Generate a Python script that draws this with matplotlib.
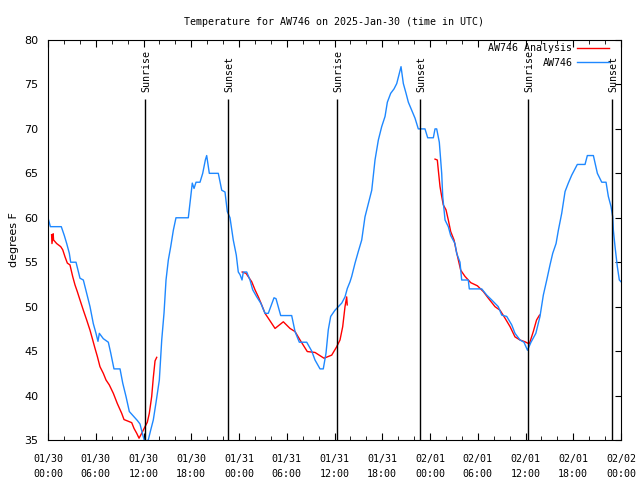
import matplotlib
matplotlib.use("Agg")
import matplotlib.pyplot as plt
from matplotlib.ticker import MultipleLocator

# hours since 2025-01-30 00:00 UTC
obs_hours = [0.0, 0.3, 1.67, 2.05, 2.35, 2.68, 2.85, 3.52, 4.02, 4.44, 4.86, 5.28, 5.69, 6.03,
             6.28, 6.45, 6.95, 7.58, 7.88, 8.29, 9.05, 9.39, 9.8, 10.22, 10.72, 11.22, 11.56,
             11.9, 12.15, 12.6, 12.9, 13.23, 13.57, 13.99, 14.29, 14.58, 14.83, 15.12, 15.42,
             15.75, 16.08, 17.63, 17.84, 18.13, 18.35, 18.6, 19.1, 19.44, 19.77, 19.94, 20.27,
             21.4, 21.83, 22.24, 22.53, 22.87, 23.28, 23.66, 23.91, 24.13, 24.38, 24.54, 24.97,
             25.38, 25.72, 26.23, 26.73, 27.27, 27.68, 28.4, 28.65, 29.24, 30.62, 31.04, 31.58,
             32.51, 33.14, 33.55, 34.18, 34.59, 34.93, 35.22, 35.52, 36.06, 36.48, 36.91, 37.32,
             37.61, 37.95, 38.16, 38.58, 38.99, 39.42, 39.83, 40.25, 40.68, 41.09, 41.51, 41.93,
             42.35, 42.64, 43.06, 43.48, 43.82, 44.14, 44.36, 44.65, 44.99, 45.28, 45.7, 46.12,
             46.53, 47.37, 47.71, 48.42, 48.63, 48.84, 49.17, 49.47, 49.6, 49.89, 50.3, 50.6,
             51.14, 51.35, 51.77, 51.98, 52.81, 52.94, 54.5, 55.13, 55.76, 56.58, 57.01, 57.64,
             58.27, 58.68, 59.31, 59.81, 60.25, 60.69, 61.3, 61.82, 62.04, 62.24, 62.67, 63.08,
             63.42, 63.84, 64.13, 64.55, 64.97, 65.38, 65.81, 66.51, 67.48, 67.77, 68.53, 69.03,
             69.58, 70.12, 70.41, 70.75, 70.96, 71.04, 71.25, 71.54, 71.79, 72.0]
obs_temp = [60, 59, 59, 58, 57.1, 56, 55, 55, 53.2, 53, 51.5, 50, 48.1, 47,
            46.1, 47, 46.4, 46, 44.8, 43, 43, 41.4, 39.9, 38.2, 37.7, 37.2, 36.8,
            35.6, 34.8, 35.0, 36.1, 37.25, 39.2, 41.75, 46.25, 49.3, 53, 55.25, 56.75,
            58.6, 60, 60, 61.6, 63.9, 63.3, 64, 64, 65, 66.5, 67, 65,
            65, 63.1, 62.9, 60.7, 60, 57.5, 55.8, 53.9, 53.6, 53, 53.9, 53.9,
            53, 51.9, 51.1, 50.4, 49.25, 49.25, 51, 50.9, 49, 49, 47.2, 46,
            46, 45, 44, 43, 43, 44.75, 47.4, 48.9, 49.6, 50, 50.4, 51.1,
            52.05, 52.8, 53.4, 54.9, 56.2, 57.5, 60.1, 61.6, 63.1, 66.5, 68.75, 70.25,
            71.4, 73, 74, 74.5, 75.1, 76.25, 77, 75.1, 74, 73, 72.1, 71.2,
            70, 70, 69, 69, 70, 70, 68.5, 65, 62.4, 59.75, 59, 58,
            57.1, 56, 55, 53, 53, 52, 52, 51.3, 50.75, 50, 49.05, 48.9,
            47.95, 47, 46.25, 46, 45.1, 46, 47, 48.9, 50.2, 51.3, 53, 54.7,
            56, 57.1, 58.6, 60.5, 62.95, 63.9, 64.8, 66, 66, 67, 67, 65,
            64, 64, 62.4, 61.25, 60.1, 58.6, 56.75, 54.5, 53, 52.8]

# analysis series comes in three separate runs
ana1_hours = [0.45, 0.5, 0.65, 0.7, 1.09, 1.6, 1.85, 2.14, 2.43, 2.76, 3.1, 3.39, 3.68, 4.02,
              4.44, 4.86, 5.28, 5.62, 5.91, 6.2, 6.53, 6.95, 7.29, 7.7, 8.21, 8.71, 9.26,
              9.55, 9.97, 10.52, 10.81, 11.15, 11.44, 11.77, 12.19, 12.48, 12.73, 13.03,
              13.23, 13.45, 13.66]
ana1_temp = [58.1, 57.1, 58.2, 57.5, 57.1, 56.75, 56.4, 55.6, 54.9, 54.7, 53.4, 52.45, 51.7, 50.75,
             49.6, 48.5, 47.35, 46.25, 45.3, 44.4, 43.25, 42.5, 41.75, 41.2, 40.25, 39.1, 38,
             37.3, 37.15, 36.95, 36.3, 35.75, 35.2, 35.75, 36.5, 37, 38, 39.9,
             42, 43.9, 44.3]
ana2_hours = [24.4, 24.88, 25.6, 26.01, 26.43, 26.85, 27.27, 27.68, 28.53, 29.57, 30.41, 31.04,
              31.67, 32.58, 33.55, 34.68, 35.65, 36.28, 36.69, 37.03, 37.32, 37.53, 37.6]
ana2_temp = [53.9, 53.75, 52.8, 51.9, 51.1, 50.2, 49.25, 48.7, 47.55, 48.3, 47.55, 47.2,
             46.25, 44.95, 44.85, 44.2, 44.55, 45.5, 46.25, 47.75, 50, 51.1, 50.2]
ana3_hours = [48.63, 48.92, 49.04, 49.26, 49.47, 49.67, 50.01, 50.3, 50.6, 51.02, 51.27, 51.56,
              51.86, 52.4, 53.12, 53.95, 54.7, 55.33, 56.17, 56.8, 57.43, 58.06, 58.68, 59.31,
              59.94, 60.48, 60.98, 61.39, 61.76]
ana3_temp = [66.6, 66.5, 65.4, 63.5, 62.4, 61.45, 60.9, 59.75, 58.45, 57.5, 56.4, 55.25,
             54.1, 53.4, 52.7, 52.35, 51.7, 50.95, 50, 49.6, 48.7, 47.75, 46.6, 46.25,
             46.05, 45.8, 47.2, 48.5, 49.05]

sun_hours = [12.19, 22.62, 36.3, 46.75, 60.3, 70.9]
sun_labels = ["Sunrise", "Sunset", "Sunrise", "Sunset", "Sunrise", "Sunset"]

tick_hours = list(range(0, 73, 6))
tick_labels = ["01/30\n00:00", "01/30\n06:00", "01/30\n12:00", "01/30\n18:00",
               "01/31\n00:00", "01/31\n06:00", "01/31\n12:00", "01/31\n18:00",
               "02/01\n00:00", "02/01\n06:00", "02/01\n12:00", "02/01\n18:00",
               "02/02\n00:00"]

mono = "DejaVu Sans Mono"
red = "#ff0000"
blue = "#1e88ff"

fig = plt.figure(figsize=(6.4, 4.8), dpi=100)
ax = fig.add_axes([48 / 640, 40 / 480, 573 / 640, 400 / 480])

ax.plot(ana1_hours, ana1_temp, color=red, lw=1.0, label="AW746 Analysis")
ax.plot(ana2_hours, ana2_temp, color=red, lw=1.0)
ax.plot(ana3_hours, ana3_temp, color=red, lw=1.0)
ax.plot(obs_hours, obs_temp, color=blue, lw=1.0, label="AW746")

# sun event markers: line stops just under its label
ax.vlines(sun_hours, 35, 73.4, color="black", lw=1.0)
for h, lab in zip(sun_hours, sun_labels):
    ax.text(h + 0.2, 74.1, lab, rotation=90, ha="center", va="bottom",
            family=mono, fontsize=7.2)

ax.set_xlim(0, 72)
ax.set_ylim(35, 80)
ax.set_xticks(tick_hours)
ax.set_xticklabels(tick_labels, family=mono, fontsize=7.2, linespacing=1.6)
ax.xaxis.set_minor_locator(MultipleLocator(2))
ax.set_yticks(range(35, 81, 5))
ax.tick_params(axis="x", which="major", direction="in", length=5, top=True, pad=10)
ax.tick_params(axis="x", which="minor", direction="in", length=3, top=True)
ax.tick_params(axis="y", direction="in", length=4, left=False, right=True,
               labelsize=8, pad=7)

ax.set_ylabel("degrees F", fontsize=8, labelpad=4)
ax.set_title("Temperature for AW746 on 2025-Jan-30 (time in UTC)", family=mono,
             fontsize=7.2, pad=11)

leg = ax.legend(loc="upper right", frameon=False, markerfirst=False,
                prop={"family": mono, "size": 7.2}, handlelength=3.2,
                handletextpad=0.45, borderaxespad=0.15, borderpad=0.2,
                labelspacing=0.45, bbox_to_anchor=(0.985, 1.0))

fig.savefig("out.png", dpi=100)
